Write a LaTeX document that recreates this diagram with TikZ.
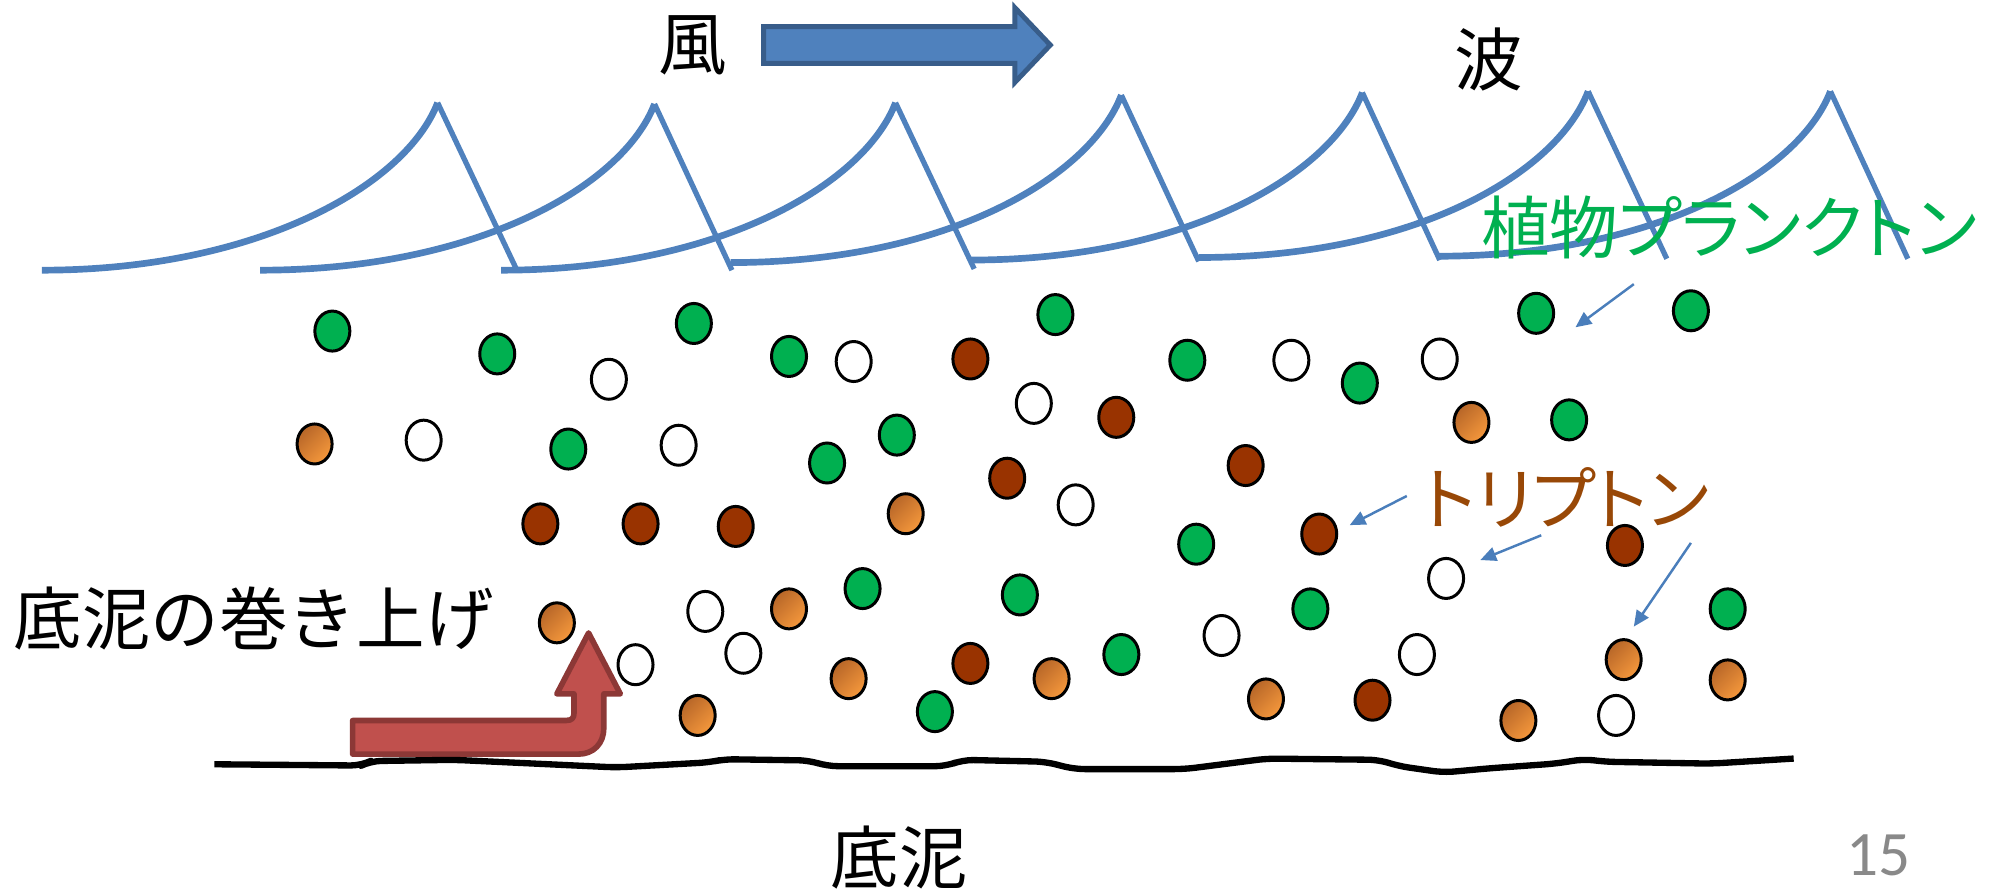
\documentclass[tikz,border=0pt]{standalone}
\usepackage{tikz}
\usepackage{xcolor}
\usepackage{fontspec}
\usetikzlibrary{shapes.geometric, arrows.meta}

\newfontfamily\jp{Noto Sans CJK JP}
\newfontfamily\jpkana[RawFeature=+palt]{Noto Sans CJK JP}
\newfontfamily\pagefont{Carlito}

\definecolor{seablue}{HTML}{4F81BD}
\definecolor{seaedge}{HTML}{385D8A}
\definecolor{leaderblue}{HTML}{4A7EBB}
\definecolor{phytogreen}{HTML}{00B050}
\definecolor{tripbrown}{HTML}{993300}
\definecolor{muddark}{RGB}{183,102,40}
\definecolor{mudlight}{RGB}{245,152,60}
\definecolor{labelbrown}{HTML}{984807}
\definecolor{liftred}{HTML}{C0504D}
\definecolor{liftedge}{HTML}{8C3836}
\definecolor{pagegray}{HTML}{898989}

\begin{document}
\begin{tikzpicture}[x=0.012685cm, y=-0.012685cm,
        particle/.style={ellipse, draw, line width=0.85pt, inner sep=0pt, minimum width=0.35cm, minimum height=0.40cm},
        phyto/.style={particle, fill=phytogreen},
        tripton/.style={particle, fill=tripbrown},
        mud/.style={particle, top color=muddark, bottom color=mudlight, shading angle=45},
        blank/.style={particle, fill=white},
        crest/.style={seablue, line width=1.9pt},
        fall/.style={seablue, line width=1.5pt},
        leader/.style={leaderblue, line width=0.7pt, -{Triangle[length=4.5pt, width=4pt]}},
        jptext/.style={font=\jp\fontsize{19.5}{23}\selectfont, inner sep=0pt},
        kanatext/.style={font=\jpkana\fontsize{19.5}{23}\selectfont, inner sep=0pt}]
        \useasboundingbox (0,0) rectangle (1568,702);

        \foreach \sx/\sy/\px/\py/\ex/\ey in {33/213/345/81/407/212, 205/213/516/82/577/213,
                395/213/706/81/768/212, 576/207/884/75/945/206, 765/205/1074/73/1135/205,
                945/203/1252/72/1314/204, 1133/202/1443/72/1504/204} {
            \draw[crest] (\sx,\sy) .. controls +(170,0) and +(-25,65) .. (\px,\py);
            \draw[fall] (\px,\py) -- (\ex,\ey);
        }

        \node[jptext] (kaze) at (546.5,36) {風};
        \draw[fill=seablue, draw=seaedge, line width=1.4pt]
            (602,21) -- (800,21) -- (800,6) -- (828,35.5) -- (800,65) -- (800,50) -- (602,50) -- cycle;
        \node[jptext] (nami) at (1174,47) {波};
        \node[kanatext, text=phytogreen] (phytolabel) at (1363,179) {植物プランクトン};
        \node[kanatext, text=labelbrown] (triplabel) at (1234.5,392) {トリプトン};
        \node[jptext] (liftlabel) at (200,488) {底泥の巻き上げ};
        \node[jptext] (bedlabel) at (709,676) {底泥};
        \node[font=\pagefont\fontsize{18}{22}\selectfont, text=pagegray, anchor=base, inner sep=0pt] (page) at (1481,690) {15};

        \foreach \x/\y [count=\i] in {262/261, 392/279, 547/255, 622/281, 832/248, 936/284, 1072/302,
                1211/247, 1333/245, 448/354, 707/343, 652/365, 1237/331, 943/429, 680/464,
                804/469, 884/516, 1033/480, 737/561, 1362/480}
            \node[phyto] (g\i) at (\x,\y) {};
        \foreach \x/\y [count=\i] in {765/283, 880/329, 794/377, 982/367, 426/413, 505/413, 580/415,
                1040/421, 1281/430, 765/523, 1082/552}
            \node[tripton] (t\i) at (\x,\y) {};
        \foreach \x/\y [count=\i] in {248/350, 714/405, 1160/333, 439/491, 622/480, 550/564, 669/535,
                829/535, 998/551, 1197/568, 1280/520, 1362/536}
            \node[mud] (m\i) at (\x,\y) {};
        \foreach \x/\y [count=\i] in {480/299, 673/285, 815/318, 1018/284, 1135/283, 334/347, 535/351,
                848/398, 1140/456, 556/482, 501/524, 586/515, 963/501, 1117/516, 1274/564}
            \node[blank] (w\i) at (\x,\y) {};

        \coordinate (a1) at (1288,224);
        \coordinate (b1) at (1242,258);
        \coordinate (a2) at (1109,391);
        \coordinate (b2) at (1064,414);
        \coordinate (a3) at (1215,422);
        \coordinate (b3) at (1167,441.5);
        \coordinate (a4) at (1333,428);
        \coordinate (b4) at (1288,494);
        \draw[leader] (a1) -- (b1);
        \draw[leader] (a2) -- (b2);
        \draw[leader] (a3) -- (b3);
        \draw[leader] (a4) -- (b4);

        \draw[fill=liftred, draw=liftedge, line width=1.6pt, line join=round]
            (278,568) -- (446,568) .. controls (451,568) and (452.5,566) .. (452.5,562) -- (452.5,547)
            -- (439,547) -- (464,499) -- (489,547) -- (476,547) -- (476,574)
            .. controls (476,586) and (468,594.5) .. (456,594.5) -- (278,594.5) -- cycle;

        \draw[line width=1.8pt, line join=round, rounded corners=3pt]
            (169,602.5) -- (285,603.5) -- (292,600) -- (358,599) -- (486,605) -- (559,601)
            -- (571,598.5) -- (638,599.5) -- (652,604) -- (746,604) -- (759,599) -- (824,600.5)
            -- (847,606.3) -- (934,606.3) -- (999,598) -- (1087,599) -- (1103,604) -- (1138,609)
            -- (1174,605.7) -- (1226,602) -- (1249,598.4) -- (1265,600.5) -- (1349,602) -- (1414,598);
    \end{tikzpicture}
\end{document}
